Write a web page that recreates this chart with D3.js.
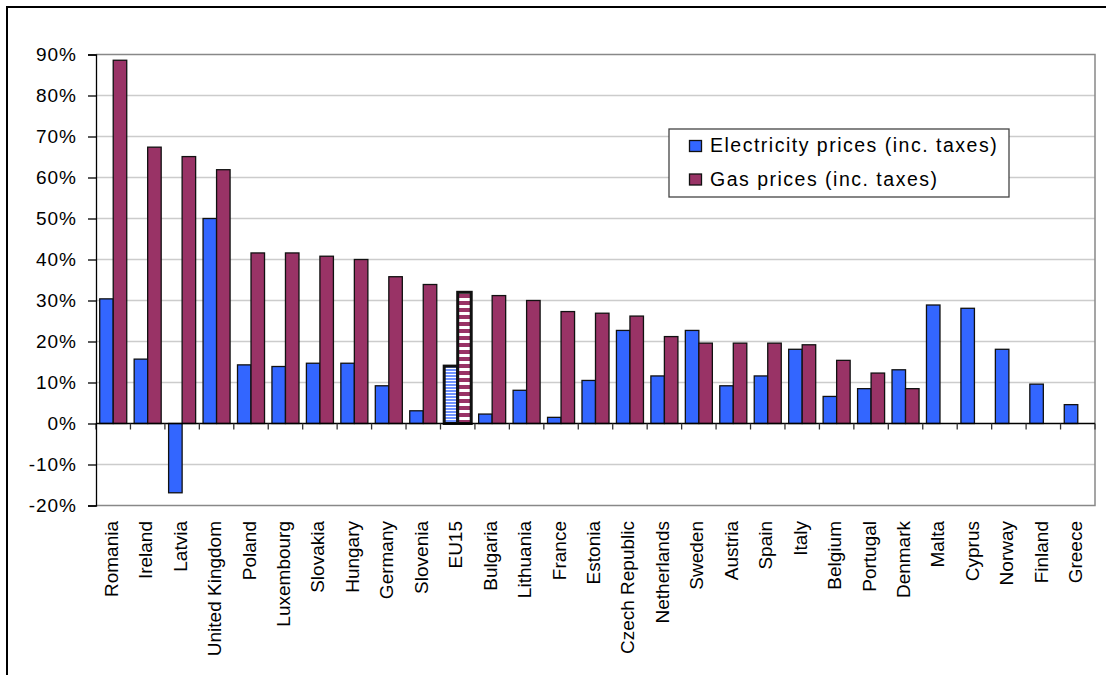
<!DOCTYPE html>
<html>
<head>
<meta charset="utf-8">
<script src="https://cdn.jsdelivr.net/npm/d3@7"></script>
<style>
    body { margin: 0; background: #fff; }
    text { font-family: "Liberation Sans", Arial, sans-serif; fill: #000; }
</style>
</head>
<body>
<div id="chart"></div>
<script>
const countries = ["Romania", "Ireland", "Latvia", "United Kingdom", "Poland", "Luxembourg", "Slovakia",
    "Hungary", "Germany", "Slovenia", "EU15", "Bulgaria", "Lithuania", "France", "Estonia",
    "Czech Republic", "Netherlands", "Sweden", "Austria", "Spain", "Italy", "Belgium", "Portugal",
    "Denmark", "Malta", "Cyprus", "Norway", "Finland", "Greece"];

const electricity = [30.4, 15.7, -16.9, 50.0, 14.3, 13.9, 14.7, 14.7, 9.2, 3.1, 14.0, 2.3, 8.1, 1.5, 10.5,
    22.7, 11.6, 22.7, 9.2, 11.6, 18.1, 6.6, 8.5, 13.1, 28.9, 28.1, 18.1, 9.6, 4.6];

const gas = [88.6, 67.4, 65.1, 61.9, 41.6, 41.6, 40.8, 40.0, 35.8, 33.9, 32.0, 31.2, 30.0, 27.3, 26.9,
    26.2, 21.2, 19.6, 19.6, 19.6, 19.2, 15.4, 12.3, 8.5, null, null, null, null, null];

const yTicks = [-20, -10, 0, 10, 20, 30, 40, 50, 60, 70, 80, 90];
const seriesNames = ["Electricity prices (inc. taxes)", "Gas prices (inc. taxes)"];
const highlight = "EU15";

const w = 1106, h = 675;
const plot = {left: 96, right: 1095, top: 54.5, bottom: 505.5};
const colors = ["#3366ff", "#993366"];

const svg = d3.select("#chart").append("svg")
    .attr("width", w)
    .attr("height", h);

// patterns for the EU15 bars
const defs = svg.append("defs");
let pe = defs.append("pattern").attr("id", "stripeElec")
    .attr("patternUnits", "userSpaceOnUse").attr("width", 6).attr("height", 3);
pe.append("rect").attr("width", 6).attr("height", 3).attr("fill", "#6f92ff");
pe.append("rect").attr("y", 2).attr("width", 6).attr("height", 1).attr("fill", "#ffffff");
let pg = defs.append("pattern").attr("id", "stripeGas")
    .attr("patternUnits", "userSpaceOnUse").attr("width", 6).attr("height", 7);
pg.append("rect").attr("width", 6).attr("height", 7).attr("fill", "#993366");
pg.append("rect").attr("y", 4).attr("width", 6).attr("height", 3).attr("fill", "#ffffff");

// outer frame
svg.append("path")
    .attr("d", "M7,680 L7,7 L1110,7")
    .attr("fill", "none")
    .attr("stroke", "#000")
    .attr("stroke-width", 2);

const x = d3.scaleBand().domain(countries).range([plot.left, plot.right]).padding(0);
const xs = d3.scaleBand().domain([0, 1]).range([0, x.bandwidth()]).paddingInner(0).paddingOuter(0.275);
const y = d3.scaleLinear().domain([-20, 90]).range([plot.bottom, plot.top]);

// gridlines
svg.append("g")
    .selectAll("line")
    .data(yTicks.filter(d => d !== 0 && d !== -20 && d !== 90))
    .enter().append("line")
    .attr("x1", plot.left).attr("x2", plot.right)
    .attr("y1", d => y(d)).attr("y2", d => y(d))
    .attr("stroke", "#cccccc")
    .attr("stroke-width", 1.5);

// plot border (top, right, bottom)
svg.append("path")
    .attr("d", `M${plot.left},${plot.top} L${plot.right},${plot.top} L${plot.right},${plot.bottom} L${plot.left},${plot.bottom}`)
    .attr("fill", "none")
    .attr("stroke", "#888888")
    .attr("stroke-width", 1.5);

// bars
let rows = countries.map((c, i) => ({c: c, vals: [electricity[i], gas[i]]}));
let groups = svg.append("g").selectAll("g")
    .data(rows)
    .enter().append("g")
    .attr("transform", d => "translate(" + x(d.c) + ",0)");

groups.selectAll("rect")
    .data(d => d.vals.map((v, k) => ({c: d.c, v: v, k: k})).filter(e => e.v !== null))
    .enter().append("rect")
    .attr("x", e => xs(e.k))
    .attr("width", xs.bandwidth())
    .attr("y", e => y(Math.max(0, e.v)))
    .attr("height", e => Math.abs(y(e.v) - y(0)))
    .attr("fill", e => e.c === highlight ? (e.k === 0 ? "url(#stripeElec)" : "url(#stripeGas)") : colors[e.k])
    .attr("stroke", "#111")
    .attr("stroke-width", e => e.c === highlight ? 3 : 1.3);

// zero line with category ticks
svg.append("line")
    .attr("x1", plot.left).attr("x2", plot.right)
    .attr("y1", y(0)).attr("y2", y(0))
    .attr("stroke", "#000").attr("stroke-width", 1.3);

svg.append("g")
    .selectAll("line")
    .data(countries.map(c => x(c)).concat([plot.right]))
    .enter().append("line")
    .attr("x1", d => d).attr("x2", d => d)
    .attr("y1", y(0)).attr("y2", y(0) + 6)
    .attr("stroke", "#333").attr("stroke-width", 1.3);

// y axis
let yAxis = svg.append("g")
    .attr("transform", "translate(" + plot.left + ",0)")
    .call(d3.axisLeft(y).tickValues(yTicks).tickSize(8).tickPadding(11).tickFormat(d => d + "%"));
yAxis.select(".domain").attr("stroke", "#000").attr("stroke-width", 1.3);
yAxis.selectAll(".tick line").attr("stroke", "#000").attr("stroke-width", 1.3);
yAxis.selectAll(".tick text")
    .attr("font-size", 19)
    .attr("font-family", "Liberation Sans, Arial, sans-serif")
    .attr("letter-spacing", 1)
    .attr("fill", "#000");

// category labels
svg.append("g")
    .selectAll("text")
    .data(countries)
    .enter().append("text")
    .attr("transform", d => "translate(" + (x(d) + x.bandwidth() / 2 + 4.5) + ",521) rotate(-90)")
    .attr("text-anchor", "end")
    .attr("font-size", 19)
    .text(d => d);

// legend
let legend = svg.append("g").attr("transform", "translate(669,129)");
legend.append("rect")
    .attr("width", 340).attr("height", 68)
    .attr("fill", "#fff")
    .attr("stroke", "#444").attr("stroke-width", 1.3);

let items = legend.selectAll("g.item")
    .data(seriesNames)
    .enter().append("g")
    .attr("class", "item")
    .attr("transform", (d, i) => "translate(0," + (i * 33.5) + ")");

items.append("rect")
    .attr("x", 20.5).attr("y", 11.5)
    .attr("width", 12).attr("height", 11)
    .attr("fill", (d, i) => colors[i])
    .attr("stroke", "#111").attr("stroke-width", 1.3);

items.append("text")
    .attr("x", 41).attr("y", 23)
    .attr("font-size", 19.5)
    .attr("letter-spacing", 1.5)
    .text(d => d);
</script>
</body>
</html>
